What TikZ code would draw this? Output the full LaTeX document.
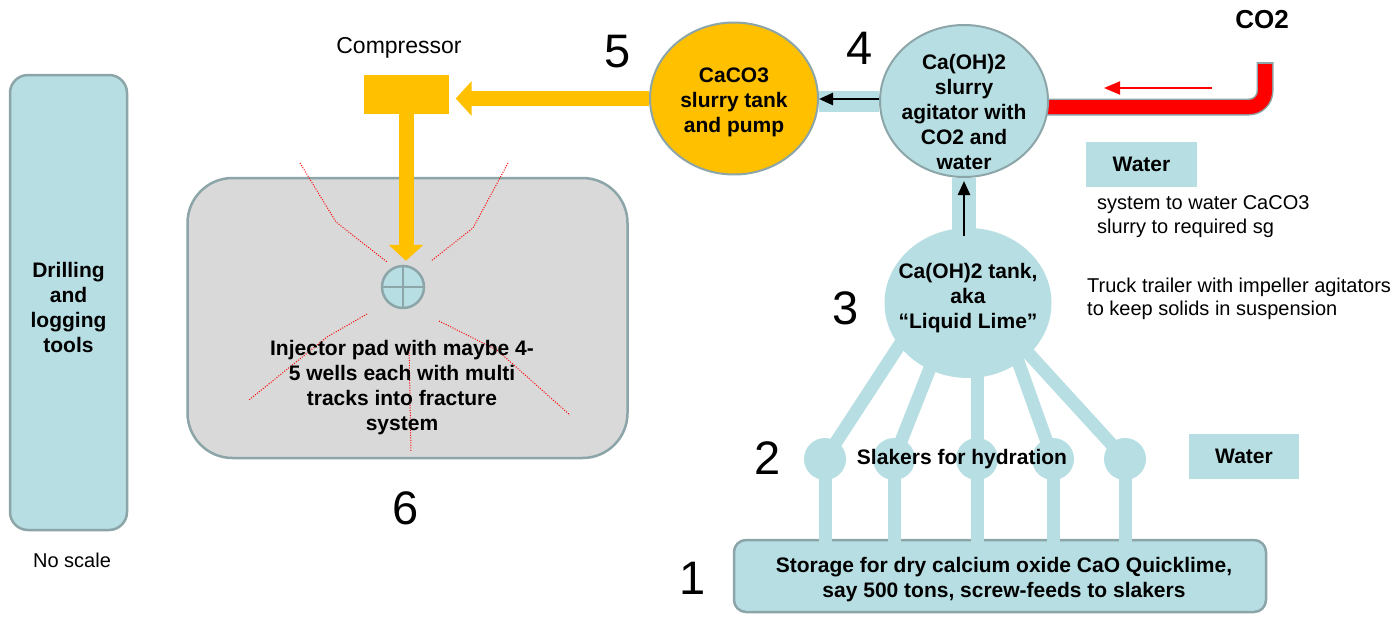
\documentclass[tikz,border=0pt]{standalone}
\usepackage{fontspec}
\setmainfont{Liberation Sans}
\usetikzlibrary{positioning,shapes.geometric,arrows.meta,backgrounds}
\definecolor{slurry}{RGB}{183,222,226}
\definecolor{rim}{RGB}{140,165,168}
\definecolor{gold}{RGB}{255,192,0}
\definecolor{padgray}{RGB}{217,217,217}
\tikzset{tank/.style={ellipse,draw=rim,line width=2pt,fill=slurry,inner sep=0pt,minimum width=168pt,minimum height=152pt},
	 slaker/.style={circle,fill=slurry,inner sep=0pt,minimum size=42pt},
	 lbl/.style={font=\fontsize{21}{25}\selectfont\bfseries,align=center},
	 storebox/.style={rectangle,draw=rim,line width=2.5pt,fill=slurry,lbl},
	 note/.style={font=\fontsize{20}{23.5}\selectfont,align=left,inner sep=0pt},
	 num/.style={font=\fontsize{47}{50}\selectfont},
	 band/.style={draw=slurry,line width=22pt},
	 feed/.style={draw=slurry,line width=13pt},
	 flow/.style={-{Triangle[width=12pt,length=14pt]},line width=2.5pt},
	 pump/.style={draw=gold,line width=15pt,-{Triangle[width=34pt,length=16pt]}},
	 crack/.style={red,line width=1pt,dash pattern=on 1pt off 1.5pt}
	 }

\begin{document}
\begin{tikzpicture}[x=1pt,y=-1pt] % lime slurry plant, no scale
	\useasboundingbox (0,0) rectangle (1397,616);
	\node[storebox,rounded corners=18pt,minimum width=117pt,minimum height=455pt] (tools) at (68.5,302.5) [label={[lbl,name=toolstxt,yshift=-5pt]center:{Drilling\\and\\logging\\tools}}] {};
	\node[note] (noscale) at (72,560) {No scale};
	\node[storebox,fill=padgray,rounded corners=45pt,minimum width=440pt,minimum height=280pt] (pad) at (407.5,318) {};
	% fractures round the wells
	\draw[crack] (300,163) -- (336,222) -- (387,262);
	\draw[crack] (508,163) -- (473,228) -- (431,261);
	\draw[crack] (367,314) -- (327,337) -- (249,400);
	\draw[crack] (409,345) -- (411,452);
	\draw[crack] (439,321) -- (497,350) -- (570,415);
	\node[lbl] (padtxt) at (402,388) {Injector pad with maybe 4-\\5 wells each with multi\\tracks into fracture\\system};
	\node[circle,draw=rim,line width=2.5pt,fill=slurry,minimum size=42pt,inner sep=0pt] (well) at (403,287) {};
	\draw[rim,line width=2.5pt] (well.north) -- (well.south) (well.west) -- (well.east);
	\node[rectangle,fill=gold,minimum width=85pt,minimum height=39pt] (comp) at (406,94.5) {};
	\node[note,font=\fontsize{23}{26}\selectfont] (comptxt) at (399,48) {Compressor};
	\node[tank,fill=gold] (caco) at (734,98.5) [label={[lbl,name=cacotxt,yshift=-3.5pt]center:{CaCO3\\slurry tank\\and pump}}] {};
	\node[tank] (agit) at (964,101) [label={[lbl,name=agittxt,yshift=-11pt]center:{Ca(OH)2\\slurry\\agitator with\\CO2 and\\water}}] {};
	\node[tank,draw=none,minimum width=167pt,minimum height=150pt] (limetank) at (968,303) [label={[lbl,name=limetxt,yshift=5pt]center:{Ca(OH)2 tank,\\aka\\“Liquid Lime”}}] {};
	\node[slaker] (s1) at (825,459) {};
	\node[slaker] (s2) at (894,459) {};
	\node[slaker] (s3) at (977,459) {};
	\node[slaker] (s4) at (1053,459) {};
	\node[slaker] (s5) at (1125,459) {};
	\node[storebox,rounded corners=12pt,minimum width=532pt,minimum height=72pt] (store) at (1000,576) [label={[lbl,name=storetxt,xshift=4pt,yshift=-4pt]center:{Storage for dry calcium oxide CaO Quicklime,\\say 500 tons, screw-feeds to slakers}}] {};
	\coordinate (co2top) at (1265,62);
	\begin{pgfonlayer}{background}
	\draw[feed,shorten <=-8pt] (limetank.212) -- (s1.center);
	\draw[feed,shorten <=-8pt] (limetank.240) -- (s2.center);
	\draw[feed] (limetank.center -| s3) -- (s3.center);
	\draw[feed,shorten <=-8pt] (limetank.310) -- (s4.center);
	\draw[feed,shorten <=-8pt] (limetank.320) -- (s5.center);
	\draw[rim,line width=17pt,rounded corners=16pt] ([xshift=-4pt,yshift=-6pt]agit.east) -| (co2top);
	\draw[red,line width=14pt,rounded corners=16pt] ([xshift=-4pt,yshift=-6pt]agit.east) -| ([yshift=-2pt]co2top);
	\end{pgfonlayer}
	\draw[feed,shorten >=-3pt] (s1.center) -- (s1 |- store.north);
	\draw[feed,shorten >=-3pt] (s2.center) -- (s2 |- store.north);
	\draw[feed,shorten >=-3pt] (s3.center) -- (s3 |- store.north);
	\draw[feed,shorten >=-3pt] (s4.center) -- (s4 |- store.north);
	\draw[feed,shorten >=-3pt] (s5.center) -- (s5 |- store.north);
	\draw[band,line width=21pt] (agit.west) -- (agit.west -| caco.east);
	\draw[band,line width=24pt,shorten >=-3pt] (agit.south) -- (agit.south |- limetank.north);
	\draw[flow] ([yshift=2pt]agit.west) -- ([yshift=2pt]agit.west -| caco.east);
	\draw[flow,shorten <=-9pt,shorten >=3pt] (agit.south |- limetank.north) -- (agit.south);
	\draw[pump,shorten >=7pt] (caco.west) -- (comp.east |- caco.west);
	\draw[pump,shorten >=4pt] (comp.south) -- (comp.south |- well.north);
	% CO2 feed
	\coordinate (co2a) at (1212,88);
	\coordinate (co2b) at (1104,88);
	\draw[red,line width=2pt,-{Triangle[width=13pt,length=16pt]}] (co2a) -- (co2b);
	\node[lbl,font=\fontsize{26}{30}\selectfont\bfseries] (co2) at (1262,20) {CO2};
	\node[rectangle,fill=slurry,minimum width=111pt,minimum height=45pt,lbl] (water1) at (1141.5,164.5) {Water};
	\node[note,anchor=west] (sgnote) at (1097,216.5) {system to water CaCO3\\slurry to required sg};
	\node[note,anchor=west] (trucknote) at (1087,299) {Truck trailer with impeller agitators\\to keep solids in suspension};
	\node[rectangle,fill=slurry,minimum width=110pt,minimum height=45pt,lbl] (water2) at (1244,456.5) {Water};
	\node[num] (n1) at (693,578) {1};
	\node[num] (n2) at (768,458) {2};
	\node[num] (n3) at (846,308) {3};
	\node[num] (n4) at (860,48) {4};
	\node[num] (n5) at (618,52) {5};
	\node[num] (n6) at (406,508) {6};
	\node[lbl] (slaktxt) at (962,459) {Slakers for hydration};
\end{tikzpicture}
\end{document}
